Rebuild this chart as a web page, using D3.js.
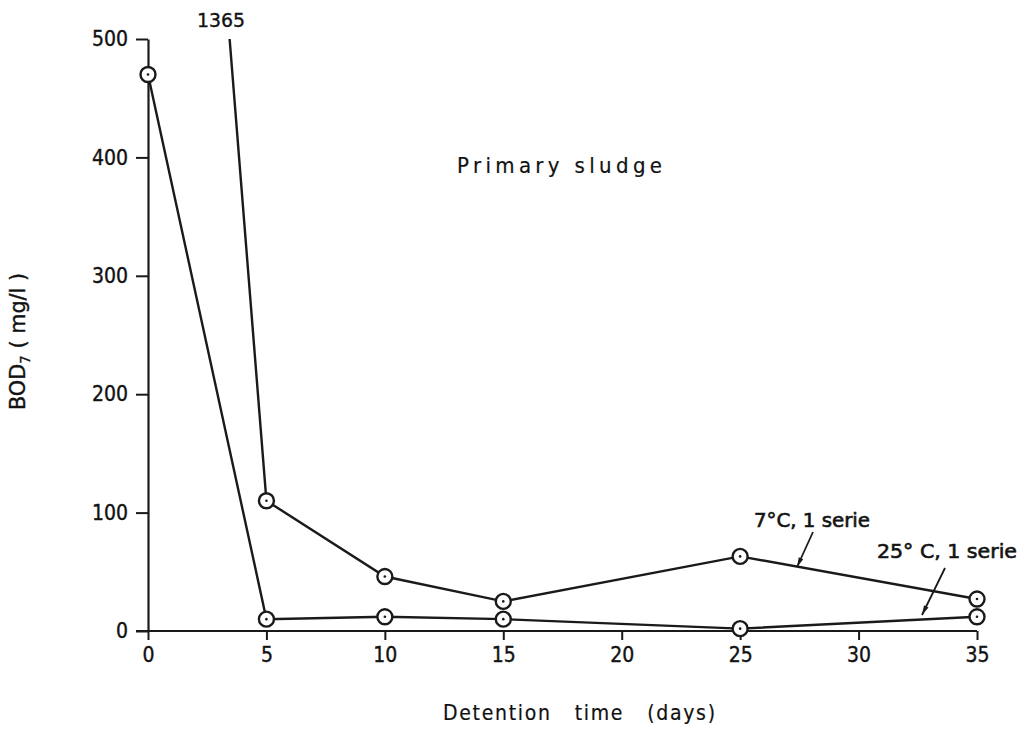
<!DOCTYPE html>
<html><head><meta charset="utf-8">
<script src="https://cdn.jsdelivr.net/npm/d3@7"></script>
<style>
body{margin:0;background:#fff;}
text{font-family:"DejaVu Sans Condensed","DejaVu Sans",sans-serif;fill:#111;}
</style></head>
<body><svg id="c" width="1025" height="730"></svg>
<script>
const xTicks = [0,5,10,15,20,25,30,35];
const yTicks = [0,100,200,300,400,500];
const days = [0,5,10,15,25,35];
const bod7C = [1365,110,46,25,63,27];
const bod25C = [470,10,12,10,2,12];
const labels = {cold:"7°C, 1 serie", warm:"25° C, 1 serie", title:"Primary sludge", offscale:"1365"};

const svg = d3.select("#c");
const x = d3.scaleLinear().domain([0,35]).range([148,977]);
const y = d3.scaleLinear().domain([0,500]).range([631,39]);
const ink = "#1a1a1a";

svg.append("clipPath").attr("id","clip").append("rect")
  .attr("x",0).attr("y",y(500)).attr("width",1025).attr("height",700);

function txt(t,sw){ return t.attr("fill",ink).attr("stroke",ink).attr("stroke-width",sw||0.35); }

// axes
const xAxis = d3.axisBottom(x).tickValues(xTicks).tickSize(9).tickPadding(6).tickSizeOuter(0);
const gx = svg.append("g").attr("transform",`translate(0,${y(0)})`).call(xAxis);
const yAxis = d3.axisLeft(y).tickValues(yTicks).tickSize(12).tickPadding(8).tickSizeOuter(0);
const gy = svg.append("g").attr("transform",`translate(${x(0)},0)`).call(yAxis);
[gx,gy].forEach(g=>{
  g.select(".domain").attr("stroke",ink).attr("stroke-width",2.2);
  g.selectAll(".tick line").attr("stroke",ink).attr("stroke-width",2);
  txt(g.selectAll(".tick text").attr("font-size",21)
   .style("font-family",'"DejaVu Sans Condensed","DejaVu Sans",sans-serif'),0.4);
});
gx.selectAll(".tick text").attr("dy","0.75em");
gx.select(".domain").attr("d",`M${x(0)-12},0H${x(35)}`);

// lines
const line = d3.line().x((d,i)=>x(days[i])).y(d=>y(d));
svg.append("path").datum(bod7C).attr("d",line).attr("fill","none")
  .attr("stroke",ink).attr("stroke-width",2.4).attr("clip-path","url(#clip)");
svg.append("path").datum(bod25C).attr("d",line).attr("fill","none")
  .attr("stroke",ink).attr("stroke-width",2.4);

// markers
function markers(vals){
  const pts = vals.map((v,i)=>({x:days[i],v})).filter(d=>d.v<=500);
  const g = svg.append("g");
  g.selectAll("circle.m").data(pts).join("circle").attr("class","m")
    .attr("cx",d=>x(d.x)).attr("cy",d=>y(d.v)).attr("r",7.5)
    .attr("fill","#fff").attr("stroke",ink).attr("stroke-width",2.4);
  g.selectAll("circle.d").data(pts).join("circle").attr("class","d")
    .attr("cx",d=>x(d.x)).attr("cy",d=>y(d.v)).attr("r",1.3).attr("fill",ink);
}
markers(bod7C);
markers(bod25C);

// off-scale label
txt(svg.append("text").attr("x",197).attr("y",27).attr("font-size",19)
  .attr("textLength",48).attr("lengthAdjust","spacingAndGlyphs").text(labels.offscale));

// title
txt(svg.append("text").attr("x",457).attr("y",173).attr("font-size",22)
  .attr("textLength",205).attr("lengthAdjust","spacing").text(labels.title),0.2);

// series annotations
txt(svg.append("text").attr("x",754).attr("y",527).attr("font-size",20)
  .attr("textLength",116).attr("lengthAdjust","spacingAndGlyphs").text(labels.cold),0.6);
txt(svg.append("text").attr("x",877).attr("y",558).attr("font-size",20)
  .attr("textLength",140).attr("lengthAdjust","spacingAndGlyphs").text(labels.warm),0.6);
function arrow(x1,y1,x2,y2){
  svg.append("line").attr("x1",x1).attr("y1",y1).attr("x2",x2).attr("y2",y2)
    .attr("stroke",ink).attr("stroke-width",1.8);
  const a = Math.atan2(y2-y1,x2-x1), L=10, w=0.25;
  const p = [[x2,y2],[x2-L*Math.cos(a-w),y2-L*Math.sin(a-w)],[x2-L*Math.cos(a+w),y2-L*Math.sin(a+w)]];
  svg.append("path").attr("d","M"+p.map(q=>q.join(",")).join("L")+"Z").attr("fill",ink);
}
arrow(813,532,797,567);
arrow(945,568,922,615);

// axis titles
txt(svg.append("text").attr("x",443).attr("y",720).attr("font-size",21)
  .attr("xml:space","preserve").attr("textLength",272).attr("lengthAdjust","spacing")
  .text("Detention   time   (days)"),0.2);
const yl = txt(svg.append("text").attr("transform","translate(25,410) rotate(-90)")
  .attr("font-size",21).attr("textLength",137).attr("lengthAdjust","spacingAndGlyphs"),0.4);
yl.append("tspan").text("BOD");
yl.append("tspan").attr("font-size",14).attr("dy",5).text("7");
yl.append("tspan").attr("dy",-5).attr("xml:space","preserve").text(" ( mg/l )");
</script></body></html>
